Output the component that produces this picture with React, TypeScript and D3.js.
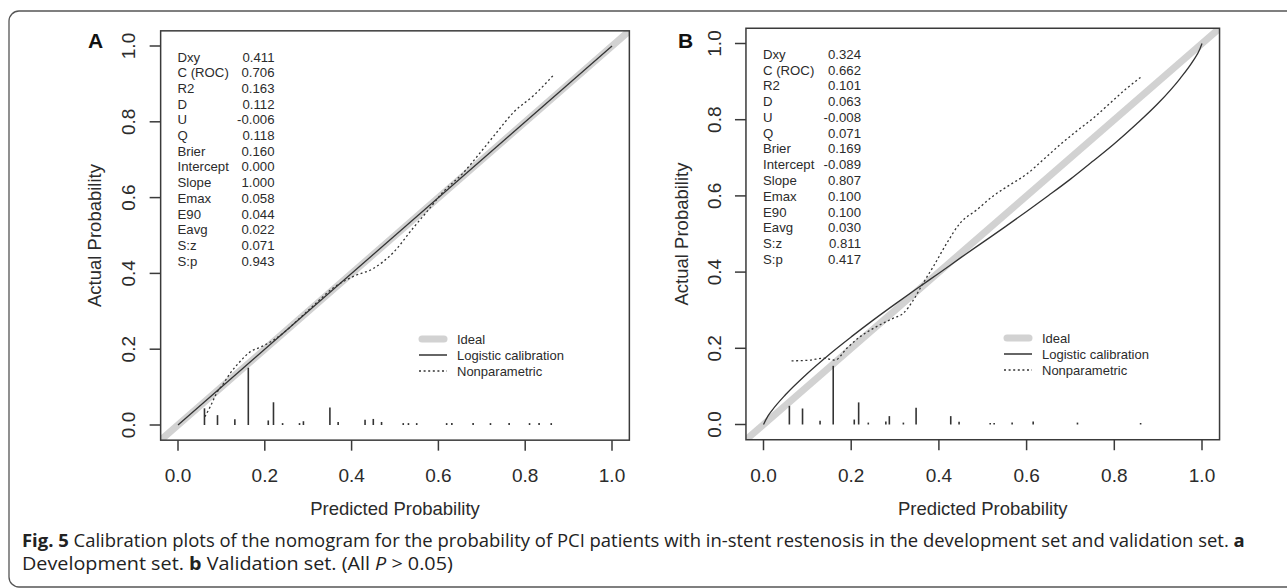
import React, { useLayoutEffect, useRef, useState } from "react";
import * as d3 from "d3";

// ---------- data ----------
const tickValues = [0, 0.2, 0.4, 0.6, 0.8, 1.0];
const tickLabels = ["0.0", "0.2", "0.4", "0.6", "0.8", "1.0"];

const statNames = ["Dxy", "C (ROC)", "R2", "D", "U", "Q", "Brier", "Intercept", "Slope", "Emax", "E90", "Eavg", "S:z", "S:p"];
const statsA = ["0.411", "0.706", "0.163", "0.112", "-0.006", "0.118", "0.160", "0.000", "1.000", "0.058", "0.044", "0.022", "0.071", "0.943"];
const statsB = ["0.324", "0.662", "0.101", "0.063", "-0.008", "0.071", "0.169", "-0.089", "0.807", "0.100", "0.100", "0.030", "0.811", "0.417"];

const legendLabels = ["Ideal", "Logistic calibration", "Nonparametric"];

// logistic calibration curves (predicted, actual)
const logisticA: [number, number][] = [[0, 0], [1, 1]];
const logisticB: [number, number][] = [
  [0, 0], [0.01, 0.022], [0.02, 0.038], [0.05, 0.078], [0.1, 0.134], [0.15, 0.184], [0.2, 0.23],
  [0.25, 0.274], [0.3, 0.316], [0.35, 0.357], [0.4, 0.397], [0.45, 0.438], [0.5, 0.478], [0.55, 0.518],
  [0.6, 0.559], [0.65, 0.601], [0.7, 0.644], [0.75, 0.69], [0.8, 0.737], [0.85, 0.788], [0.9, 0.843],
  [0.95, 0.908], [0.98, 0.955], [0.995, 0.985], [1.0, 1.0],
];

// nonparametric (loess) curves
const nonparA: [number, number][] = [
  [0.062, 0.022], [0.075, 0.05], [0.089, 0.084], [0.105, 0.11], [0.12, 0.136], [0.145, 0.17], [0.166, 0.193],
  [0.189, 0.205], [0.22, 0.224], [0.25, 0.25], [0.273, 0.274], [0.312, 0.315], [0.358, 0.362], [0.404, 0.392],
  [0.45, 0.413], [0.496, 0.455], [0.542, 0.52], [0.573, 0.562], [0.611, 0.615], [0.657, 0.665], [0.696, 0.718],
  [0.735, 0.773], [0.773, 0.825], [0.82, 0.87], [0.865, 0.923],
];
const nonparB: [number, number][] = [
  [0.064, 0.167], [0.106, 0.169], [0.136, 0.174], [0.163, 0.169], [0.19, 0.2], [0.22, 0.23], [0.258, 0.257],
  [0.296, 0.279], [0.319, 0.292], [0.342, 0.327], [0.364, 0.371], [0.387, 0.414], [0.418, 0.476], [0.448, 0.528],
  [0.486, 0.563], [0.524, 0.6], [0.562, 0.629], [0.6, 0.657], [0.638, 0.695], [0.676, 0.734], [0.714, 0.77],
  [0.752, 0.804], [0.79, 0.843], [0.828, 0.882], [0.862, 0.913],
];

// rug / histogram of predicted probabilities
const spikeXA = [0.061, 0.091, 0.131, 0.162, 0.208, 0.22, 0.241, 0.28, 0.289, 0.35, 0.369, 0.431, 0.45, 0.469, 0.519, 0.531, 0.55, 0.619, 0.631, 0.68, 0.72, 0.763, 0.81, 0.832, 0.86];
const spikeHA = [0.044, 0.026, 0.015, 0.151, 0.012, 0.06, 0.005, 0.005, 0.01, 0.046, 0.008, 0.014, 0.016, 0.008, 0.005, 0.005, 0.005, 0.005, 0.005, 0.005, 0.005, 0.005, 0.005, 0.005, 0.005];
const spikeXB = [0.059, 0.089, 0.129, 0.159, 0.207, 0.217, 0.239, 0.279, 0.287, 0.319, 0.348, 0.427, 0.446, 0.517, 0.526, 0.567, 0.615, 0.716, 0.86];
const spikeHB = [0.049, 0.042, 0.01, 0.154, 0.013, 0.058, 0.005, 0.008, 0.022, 0.005, 0.044, 0.022, 0.007, 0.004, 0.004, 0.005, 0.008, 0.005, 0.004];

// ---------- layout ----------
const FONT = "'Liberation Sans', Arial, Helvetica, sans-serif";
const CAP = "'Open Sans', 'Noto Sans', sans-serif";
const INK = "#2b2b2b";
const IDEAL = "#d2d2d2";

type PanelCfg = {
  id: string;
  letter: string;
  px0: number; px1: number; py0: number; py1: number;
  stats: string[];
  logistic: [number, number][];
  nonpar: [number, number][];
  spikeX: number[]; spikeH: number[];
  statsX: number; statsValX: number; statsY0: number; statsDy: number;
  legendX: number; legendY: number[];
  letterX: number; yLabelX: number; yTitleX: number;
};

const panels: PanelCfg[] = [
  {
    id: "a", letter: "A", px0: 178, px1: 612, py0: 425, py1: 46,
    stats: statsA, logistic: logisticA, nonpar: nonparA, spikeX: spikeXA, spikeH: spikeHA,
    statsX: 177.5, statsValX: 274.5, statsY0: 56.7, statsDy: 15.7,
    legendX: 419, legendY: [339, 355, 371], letterX: 95.5, yLabelX: 134.5, yTitleX: 100.5,
  },
  {
    id: "b", letter: "B", px0: 763.5, px1: 1202, py0: 424.5, py1: 43.5,
    stats: statsB, logistic: logisticB, nonpar: nonparB, spikeX: spikeXB, spikeH: spikeHB,
    statsX: 763, statsValX: 861, statsY0: 54, statsDy: 15.77,
    legendX: 1004, legendY: [338, 354, 370], letterX: 685.5, yLabelX: 721, yTitleX: 687.5,
  },
];

function Panel({ p }: { p: PanelCfg }) {
  const x = d3.scaleLinear().domain([0, 1]).range([p.px0, p.px1]);
  const y = d3.scaleLinear().domain([0, 1]).range([p.py0, p.py1]);
  const bx0 = x(-0.04), bx1 = x(1.04), by0 = y(-0.04), by1 = y(1.04);
  const line = d3.line<[number, number]>().x(d => x(d[0])).y(d => y(d[1]));
  const smooth = d3.line<[number, number]>().x(d => x(d[0])).y(d => y(d[1])).curve(d3.curveMonotoneX);
  const clipId = "clip-" + p.id;
  const cx = (bx0 + bx1) / 2;
  const cy = (by0 + by1) / 2;
  const lx0 = p.legendX, lx1 = p.legendX + 28, ltx = p.legendX + 38;
  return (
    <g>
      <defs>
        <clipPath id={clipId}>
          <rect x={bx0} y={by1} width={bx1 - bx0} height={by0 - by1} />
        </clipPath>
      </defs>
      <path d={line([[-0.04, -0.04], [1.04, 1.04]]) || ""} stroke={IDEAL} strokeWidth={7} fill="none" clipPath={`url(#${clipId})`} />
      {p.spikeX.map((sx, i) => (
        <line key={i} x1={x(sx)} x2={x(sx)} y1={y(0)} y2={y(p.spikeH[i])} stroke="#333" strokeWidth={1.6} />
      ))}
      <path d={smooth(p.logistic) || ""} stroke="#333" strokeWidth={1.3} fill="none" />
      <path d={smooth(p.nonpar) || ""} stroke="#333" strokeWidth={1.3} strokeDasharray="2,2.6" fill="none" />
      <rect x={bx0} y={by1} width={bx1 - bx0} height={by0 - by1} fill="none" stroke="#3a3a3a" strokeWidth={1.5} />
      {tickValues.map((t, i) => (
        <g key={"x" + i}>
          <line x1={x(t)} x2={x(t)} y1={by0} y2={by0 + 10.5} stroke="#3a3a3a" strokeWidth={1.5} />
          <text x={x(t)} y={482} textAnchor="middle" fontSize={19} fontFamily={FONT} fill={INK}>{tickLabels[i]}</text>
        </g>
      ))}
      {tickValues.map((t, i) => (
        <g key={"y" + i}>
          <line x1={bx0} x2={bx0 - 11} y1={y(t)} y2={y(t)} stroke="#3a3a3a" strokeWidth={1.5} />
          <text transform={`translate(${p.yLabelX},${y(t)}) rotate(-90)`} textAnchor="middle" fontSize={19} fontFamily={FONT} fill={INK}>{tickLabels[i]}</text>
        </g>
      ))}
      <text x={cx} y={515} textAnchor="middle" fontSize={18.5} fontFamily={FONT} fill={INK}>Predicted Probability</text>
      <text transform={`translate(${p.yTitleX},${cy}) rotate(-90)`} textAnchor="middle" fontSize={18.5} fontFamily={FONT} fill={INK}>Actual Probability</text>
      <text x={p.letterX} y={47.5} textAnchor="middle" fontSize={21} fontWeight="bold" fontFamily={FONT} fill="#111">{p.letter}</text>
      {statNames.map((s, i) => (
        <g key={"s" + i}>
          <text x={p.statsX} y={p.statsY0 + i * p.statsDy + 4.8} fontSize={13.2} fontFamily={FONT} fill={INK}>{s}</text>
          <text x={p.statsValX} y={p.statsY0 + i * p.statsDy + 4.8} textAnchor="end" fontSize={13.2} fontFamily={FONT} fill={INK}>{p.stats[i]}</text>
        </g>
      ))}
      <line x1={lx0 + 3} x2={lx1 - 3} y1={p.legendY[0]} y2={p.legendY[0]} stroke={IDEAL} strokeWidth={7} strokeLinecap="round" />
      <line x1={lx0} x2={lx1} y1={p.legendY[1]} y2={p.legendY[1]} stroke="#333" strokeWidth={1.5} />
      <line x1={lx0} x2={lx1} y1={p.legendY[2]} y2={p.legendY[2]} stroke="#333" strokeWidth={1.3} strokeDasharray="2,2.6" />
      {legendLabels.map((l, i) => (
        <text key={"l" + i} x={ltx} y={p.legendY[i] + 4.5} fontSize={13} fontFamily={FONT} fill={INK}>{l}</text>
      ))}
    </g>
  );
}

// caption line squeezed horizontally to a target width (condensed look)
function FitLine({ x, y, width, children }: { x: number; y: number; width: number; children: React.ReactNode }) {
  const ref = useRef<SVGTextElement>(null);
  const [sx, setSx] = useState(0.86);
  useLayoutEffect(() => {
    if (ref.current) {
      const w = ref.current.getBBox().width;
      if (w > 0) setSx(width / w);
    }
  }, [width]);
  return (
    <g transform={`translate(${x},${y}) scale(${sx},1)`}>
      <text ref={ref} x={0} y={0} fontSize={18.5} fontFamily={CAP} fill="#222">{children}</text>
    </g>
  );
}

export default function App() {
  return (
    <svg width={1287} height={588} style={{ position: "absolute", left: 0, top: 0, background: "#fff" }}>
      <rect x={9} y={11} width={1400} height={576} rx={10} ry={10} fill="#fff" stroke="#555" strokeWidth={1.3} />
      {panels.map(p => <Panel key={p.id} p={p} />)}
      <FitLine x={22} y={547} width={1223}>
        <tspan fontWeight="bold">Fig. 5</tspan>
        {"  Calibration plots of the nomogram for the probability of PCI patients with in-stent restenosis in the development set and validation set. "}
        <tspan fontWeight="bold">a</tspan>
      </FitLine>
      <FitLine x={22} y={570} width={431}>
        {"Development set. "}
        <tspan fontWeight="bold">b</tspan>
        {" Validation set. (All "}
        <tspan fontStyle="italic">P</tspan>
        {" > 0.05)"}
      </FitLine>
    </svg>
  );
}
